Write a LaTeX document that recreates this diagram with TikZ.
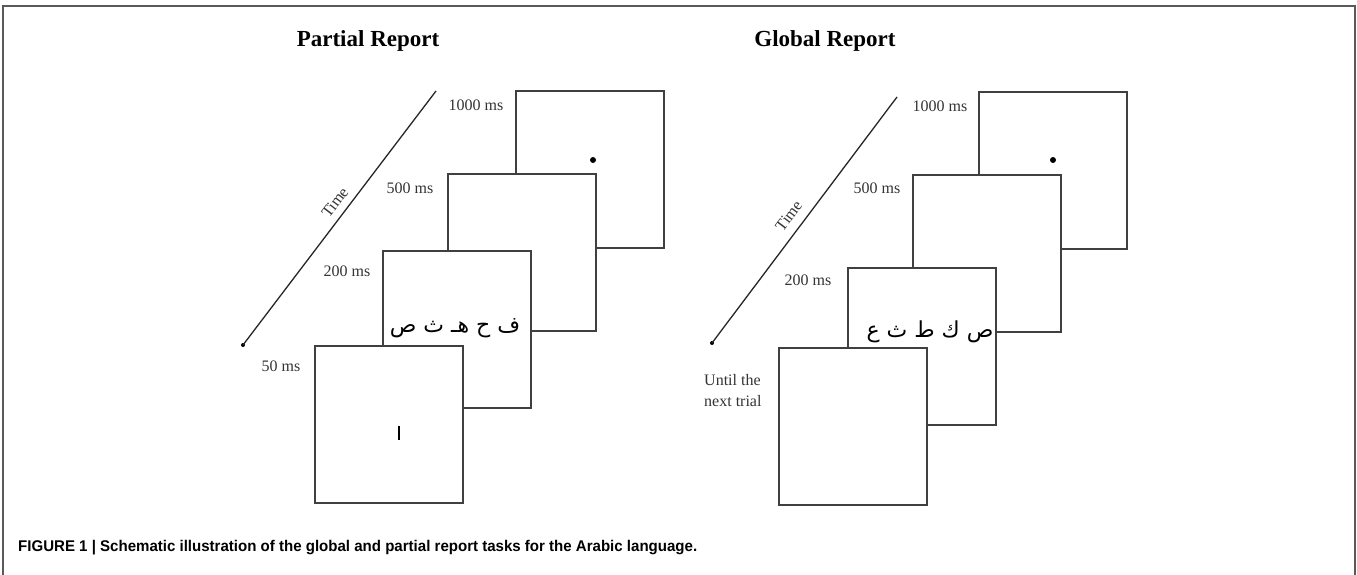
\documentclass[tikz,border=0pt]{standalone}
\usepackage{fontspec}
\setmainfont{Liberation Serif}
\newfontfamily\arabicfont[Script=Arabic]{DejaVu Sans}
\newfontfamily\capfont{Liberation Sans}
\TeXXeTstate=1
\begin{document}
\begin{tikzpicture}[x=1pt,y=-1pt,
  stim/.style={draw=black!75, line width=2pt, fill=white, minimum width=148pt, minimum height=157pt, inner sep=0pt, anchor=north west},
  mslabel/.style={font=\fontsize{16}{19}\selectfont, text=black!80, inner sep=0pt},
  title/.style={font=\fontsize{23}{27}\selectfont\bfseries, inner sep=0pt},
  timeline/.style={draw=black!85, line width=1.3pt},
  timelabel/.style={font=\fontsize{16}{19}\selectfont, text=black!80, inner sep=0pt, sloped},
  dotmark/.style={circle, fill=black, inner sep=0pt, minimum size=6pt},
  enddot/.style={circle, fill=black, inner sep=0pt, minimum size=4pt},
  arab/.style={font=\fontsize{22}{26}\selectfont\arabicfont, inner sep=0pt},
  frameline/.style={draw=black!65, line width=1.5pt}
]
\useasboundingbox (0,0) rectangle (1357,575);
% outer frame
\coordinate (fbl) at (3,580);
\coordinate (ftl) at (3,6);
\coordinate (ftr) at (1355,6);
\coordinate (fbr) at (1355,580);
\draw[frameline] (fbl) -- (ftl) -- (ftr) -- (fbr);

% titles
\node[title] (tP) at (368,41) {Partial Report};
\node[title] (tG) at (825,41) {Global Report};

% ---------- Partial report ----------
\node[stim] (p1000) at (515,90) {};
\node[stim] (p500) at (447,173) {};
\node[stim] (p200) at (382,250) {};
\node[stim] (p50) at (314,345) {};
\node[dotmark] (pdot) at (593,160) {};
\node[arab] (parab) at (455,328) {\beginR ف ح هـ ث ص\endR};
\node[fill=black, inner sep=0pt, minimum width=2.5pt, minimum height=14pt] (pbar) at (399,433) {};

\node[mslabel] (l1000) at (476,105) {1000 ms};
\node[mslabel] (l500) at (410,188) {500 ms};
\node[mslabel] (l200) at (347,271) {200 ms};
\node[mslabel] (l50) at (281,366) {50 ms};

\node[enddot] (pt0) at (243,345) {};
\coordinate (pt1) at (436,91);
\draw[timeline] (pt0.center) -- (pt1) node[timelabel, pos=0.53, above=7pt] (ptime) {Time};

% ---------- Global report ----------
\node[stim] (g1000) at (978,91) {};
\node[stim] (g500) at (912,174) {};
\node[stim] (g200) at (847,267) {};
\node[stim] (g50) at (778,347) {};
\node[dotmark] (gdot) at (1053,160) {};
\node[arab] (garab) at (930,332) {\beginR ص ك ط ث ع\endR};

\node[mslabel] (m1000) at (940,106) {1000 ms};
\node[mslabel] (m500) at (877,188) {500 ms};
\node[mslabel] (m200) at (808,280) {200 ms};
\node[mslabel, align=left, anchor=west, font=\fontsize{16}{21}\selectfont] (muntil) at (704,391) {Until the\\next trial};

\node[enddot] (gt0) at (712,343) {};
\coordinate (gt1) at (897,97);
\draw[timeline] (gt0.center) -- (gt1) node[timelabel, pos=0.48, above=9pt] (gtime) {Time};

% caption
\node[anchor=west, inner sep=0pt, font=\capfont\bfseries\fontsize{15.5}{18}\selectfont] (cap) at (18,548)
  {\resizebox{679pt}{\height}{FIGURE 1 | Schematic illustration of the global and partial report tasks for the Arabic language.}};
\end{tikzpicture}
\end{document}
